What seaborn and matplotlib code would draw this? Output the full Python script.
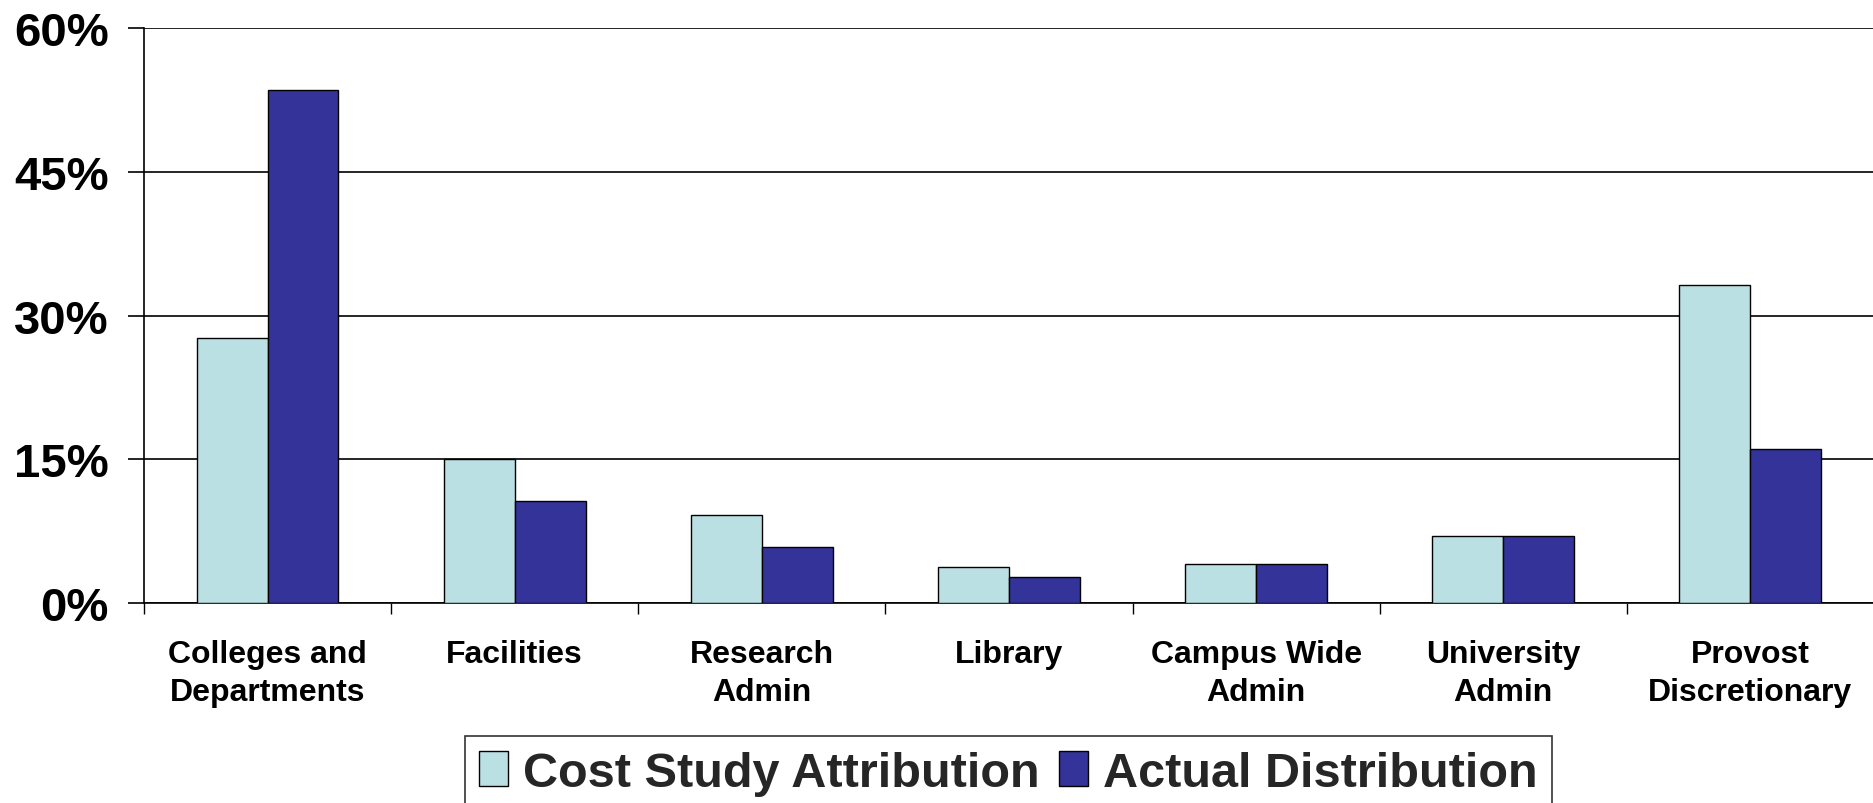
import matplotlib
matplotlib.use("Agg")
import matplotlib.pyplot as plt
import matplotlib.ticker as mticker
from matplotlib.patches import Patch
import pandas as pd
import seaborn as sns

# Share of funds by unit (percent)
categories = [
    "Colleges and\nDepartments",
    "Facilities",
    "Research\nAdmin",
    "Library",
    "Campus Wide\nAdmin",
    "University\nAdmin",
    "Provost\nDiscretionary",
]
cost_study = [27.7, 15.1, 9.2, 3.8, 4.1, 7.0, 33.2]
actual = [53.5, 10.7, 5.9, 2.7, 4.1, 7.0, 16.1]
series_names = ["Cost Study Attribution", "Actual Distribution"]
series_colors = ["#BBE0E3", "#333399"]
y_ticks = [0, 15, 30, 45, 60]

df = pd.DataFrame({
    "unit": categories * 2,
    "share": cost_study + actual,
    "series": [series_names[0]] * len(categories) + [series_names[1]] * len(categories),
})

sns.set_theme(style="white")
plt.rcParams["font.family"] = ["Liberation Sans", "DejaVu Sans"]
plt.rcParams["font.weight"] = "bold"

fig = plt.figure(figsize=(18.74, 8.04), dpi=100)
ax = fig.add_axes([0.0768, 0.2484, 0.9232, 0.7155])

sns.barplot(
    data=df, x="unit", y="share", hue="series",
    order=categories, hue_order=series_names,
    palette=series_colors, width=0.574, gap=0,
    edgecolor="black", linewidth=1.0, saturation=1,
    errorbar=None, legend=False, ax=ax, zorder=3,
)

ax.set_xlim(-0.5, len(categories) - 0.5)
ax.set_ylim(0, 60)
ax.set_xlabel("")
ax.set_ylabel("")

# Y axis: percent ticks with horizontal gridlines
ax.yaxis.set_major_locator(mticker.FixedLocator(y_ticks))
ax.yaxis.set_major_formatter(mticker.FuncFormatter(lambda v, _: f"{v:.0f}%"))
ax.yaxis.grid(True, color="black", linewidth=1.2, zorder=0)
ax.set_axisbelow(True)
ax.tick_params(axis="y", which="major", left=True, length=11.5, width=1.2,
               color="black", pad=14, labelsize=34, labelcolor="black")
for lbl in ax.get_yticklabels():
    lbl.set_fontweight("bold")

# X axis: labels at group centres, tick marks at group boundaries
ax.tick_params(axis="x", which="major", bottom=True, length=0, pad=26,
               labelsize=23, labelcolor="black")
ax.xaxis.set_minor_locator(mticker.FixedLocator(
    [i - 0.5 for i in range(len(categories) + 1)]))
ax.tick_params(axis="x", which="minor", bottom=True, length=8, width=1.0,
               color="black")
for lbl in ax.get_xticklabels():
    lbl.set_fontweight("bold")
    lbl.set_linespacing(1.32)

for side in ["top", "right"]:
    ax.spines[side].set_visible(False)
ax.spines["left"].set_color("black")
ax.spines["left"].set_linewidth(1.2)
ax.spines["bottom"].set_color("black")
ax.spines["bottom"].set_linewidth(1.2)

handles = [Patch(facecolor=c, edgecolor="black", linewidth=1.0) for c in series_colors]
leg = fig.legend(
    handles, series_names, loc="upper center", bbox_to_anchor=(0.538, 0.0833),
    ncol=2, frameon=True, fancybox=False, shadow=False,
    prop={"family": ["Liberation Sans", "DejaVu Sans"], "weight": "bold", "size": 35},
    handlelength=0.6, handleheight=0.72, handletextpad=0.3, columnspacing=0.4,
    borderpad=0.3, borderaxespad=0,
)
leg.get_frame().set_edgecolor("black")
leg.get_frame().set_linewidth(1.2)

fig.savefig("out.png", dpi=100)
